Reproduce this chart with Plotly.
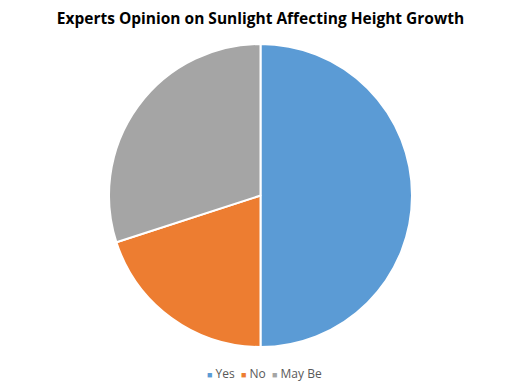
import plotly.graph_objects as go

labels = ["Yes", "No", "May Be"]
values = [50, 20, 30]
colors = ["#5B9BD5", "#ED7D31", "#A5A5A5"]

fig = go.Figure(go.Pie(
    labels=labels, values=values, sort=False, direction="clockwise", rotation=0,
    marker=dict(colors=colors, line=dict(color="white", width=2)),
    textinfo="none", hoverinfo="label+percent",
))

legend_text = "&nbsp;&nbsp;".join(
    f"<span style='color:{c};font-size:9px'>■</span> {l}" for l, c in zip(labels, colors)
)

fig.update_layout(
    width=523, height=391,
    margin=dict(l=0, r=18, t=36, b=52),
    paper_bgcolor="white", plot_bgcolor="white",
    title=dict(text="<b>Experts Opinion on Sunlight Affecting Height Growth</b>",
               x=252.5/523, xanchor="center", y=1 - 10.5/391, yanchor="middle",
               font=dict(family="Open Sans", size=15.5, color="#000000")),
    showlegend=False,
    annotations=[dict(text=legend_text, x=0.508, y=-0.089, xref="paper", yref="paper",
                      xanchor="center", yanchor="middle", showarrow=False,
                      font=dict(family="Open Sans", size=12, color="#595959"))],
)
fig.write_html("out.html")
